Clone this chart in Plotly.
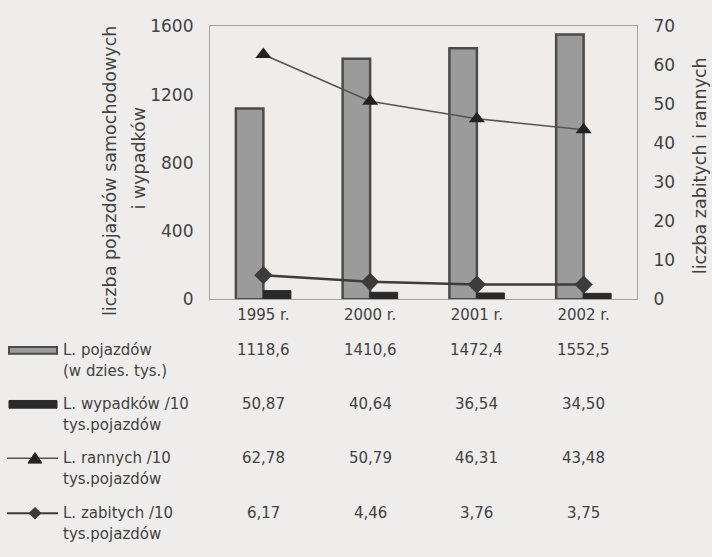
import plotly.graph_objects as go

# --- data -------------------------------------------------------------
years = ["1995 r.", "2000 r.", "2001 r.", "2002 r."]
pojazdy = [1118.6, 1410.6, 1472.4, 1552.5]      # L. pojazdów (w dzies. tys.)
wypadki = [50.87, 40.64, 36.54, 34.50]          # L. wypadków /10 tys. pojazdów
ranni = [62.78, 50.79, 46.31, 43.48]            # L. rannych /10 tys. pojazdów
zabici = [6.17, 4.46, 3.76, 3.75]               # L. zabitych /10 tys. pojazdów

left_ticks = [0, 400, 800, 1200, 1600]
right_ticks = [0, 10, 20, 30, 40, 50, 60, 70]

row_labels = [
    ("L. pojazdów", "(w dzies. tys.)"),
    ("L. wypadków /10", "tys.pojazdów"),
    ("L. rannych /10", "tys.pojazdów"),
    ("L. zabitych /10", "tys.pojazdów"),
]

# --- page geometry (pixels) ------------------------------------------
W, H = 712, 557
PX0, PX1, PY0, PY1 = 210, 637, 17, 300   # plot area box

FONT = "DejaVu Sans"
TXT = "#424242"
BG = "#eeedeb"


def fx(x):
    return x / W


def fy(y):
    return 1 - y / H


fig = go.Figure()

fig.add_trace(go.Bar(
    x=years, y=pojazdy, name="L. pojazdów",
    marker=dict(color="#9b9b9b", line=dict(color="#4b4b4b", width=2.5)),
))
fig.add_trace(go.Bar(
    x=years, y=wypadki, name="L. wypadków",
    marker=dict(color="#2a2a2a", line=dict(color="#2a2a2a", width=1)),
))
fig.add_trace(go.Scatter(
    x=years, y=ranni, yaxis="y2", mode="lines+markers", name="L. rannych",
    line=dict(color="#555555", width=1.6),
    marker=dict(symbol="triangle-up", size=14, color="#222222"),
))
fig.add_trace(go.Scatter(
    x=years, y=zabici, yaxis="y2", mode="lines+markers", name="L. zabitych",
    line=dict(color="#3c3c3c", width=2.5),
    marker=dict(symbol="diamond", size=14, color="#3c3c3c"),
))

annotations = []
shapes = []

# axis titles
annotations.append(dict(
    text="liczba pojazdów samochodowych", xref="paper", yref="paper",
    x=fx(110), y=fy(167), xanchor="center", yanchor="middle", textangle=-90,
    showarrow=False, font=dict(family=FONT, size=17.5, color=TXT)))
annotations.append(dict(
    text="i wypadków", xref="paper", yref="paper",
    x=fx(139), y=fy(154), xanchor="center", yanchor="middle", textangle=-90,
    showarrow=False, font=dict(family=FONT, size=17.5, color=TXT)))
annotations.append(dict(
    text="liczba zabitych i rannych", xref="paper", yref="paper",
    x=fx(700), y=fy(162), xanchor="center", yanchor="middle", textangle=-90,
    showarrow=False, font=dict(family=FONT, size=17.5, color=TXT)))

# data table below the chart
row_y = [353, 409, 465, 522]
line2_dy = 21
series = [pojazdy, wypadki, ranni, zabici]
fmts = ["{:.1f}", "{:.2f}", "{:.2f}", "{:.2f}"]
for r, (vals, fmt) in enumerate(zip(series, fmts)):
    for cat, v in zip(years, vals):
        annotations.append(dict(
            text=fmt.format(v).replace(".", ","), xref="x", yref="paper",
            x=cat, y=fy(row_y[r]), xanchor="center", yanchor="middle",
            showarrow=False, font=dict(family=FONT, size=15, color=TXT)))
    l1, l2 = row_labels[r]
    annotations.append(dict(
        text=l1, xref="paper", yref="paper", x=fx(61), y=fy(row_y[r]),
        xanchor="left", yanchor="middle", showarrow=False,
        font=dict(family=FONT, size=15, color=TXT)))
    annotations.append(dict(
        text=l2, xref="paper", yref="paper", x=fx(61), y=fy(row_y[r] + line2_dy),
        xanchor="left", yanchor="middle", showarrow=False,
        font=dict(family=FONT, size=15, color=TXT)))

# legend keys in the table
ky = row_y[0]
shapes.append(dict(type="rect", xref="paper", yref="paper",
                   x0=fx(9), x1=fx(57), y0=fy(ky - 3.5), y1=fy(ky + 3.5),
                   fillcolor="#9b9b9b", line=dict(color="#4b4b4b", width=2)))
ky = row_y[1]
shapes.append(dict(type="rect", xref="paper", yref="paper",
                   x0=fx(9), x1=fx(57), y0=fy(ky - 4), y1=fy(ky + 4),
                   fillcolor="#2a2a2a", line=dict(color="#2a2a2a", width=1)))
ky = row_y[2]
shapes.append(dict(type="line", xref="paper", yref="paper",
                   x0=fx(7), x1=fx(58), y0=fy(ky), y1=fy(ky),
                   line=dict(color="#555555", width=1.6)))
shapes.append(dict(type="path", xref="paper", yref="paper",
                   path=f"M {fx(28)} {fy(ky + 5)} L {fx(42)} {fy(ky + 5)} L {fx(35)} {fy(ky - 6)} Z",
                   fillcolor="#222222", line=dict(color="#222222", width=1)))
ky = row_y[3]
shapes.append(dict(type="line", xref="paper", yref="paper",
                   x0=fx(7), x1=fx(58), y0=fy(ky), y1=fy(ky),
                   line=dict(color="#3c3c3c", width=2.2)))
shapes.append(dict(type="path", xref="paper", yref="paper",
                   path=f"M {fx(29)} {fy(ky)} L {fx(35)} {fy(ky - 6)} L {fx(41)} {fy(ky)} L {fx(35)} {fy(ky + 6)} Z",
                   fillcolor="#3c3c3c", line=dict(color="#3c3c3c", width=1)))

fig.update_layout(
    width=W, height=H,
    margin=dict(l=0, r=0, t=0, b=0),
    paper_bgcolor=BG, plot_bgcolor=BG,
    barmode="group", bargap=0.485, bargroupgap=0,
    showlegend=False,
    font=dict(family=FONT, color=TXT),
    xaxis=dict(
        domain=[fx(PX0), fx(PX1)], type="category", range=[-0.5, 3.5],
        showline=True, mirror=True, linecolor="#a3a3a3", linewidth=1.2,
        ticks="outside", ticklen=2, tickcolor="rgba(0,0,0,0)",
        tickfont=dict(family=FONT, size=15, color=TXT),
        showgrid=False, zeroline=False, fixedrange=True,
    ),
    yaxis=dict(
        domain=[fy(PY1), fy(PY0)], range=[0, 1600], tickvals=left_ticks,
        showline=True, mirror=True, linecolor="#a3a3a3", linewidth=1.2,
        ticks="outside", ticklen=12, tickcolor="rgba(0,0,0,0)",
        tickfont=dict(family=FONT, size=17, color=TXT),
        showgrid=False, zeroline=False, fixedrange=True,
    ),
    yaxis2=dict(
        overlaying="y", side="right", range=[0, 70], tickvals=right_ticks,
        showline=False, ticks="outside", ticklen=12, tickcolor="rgba(0,0,0,0)",
        tickfont=dict(family=FONT, size=17, color=TXT),
        showgrid=False, zeroline=False, fixedrange=True,
    ),
    annotations=annotations,
    shapes=shapes,
)

fig.write_html("out.html")
